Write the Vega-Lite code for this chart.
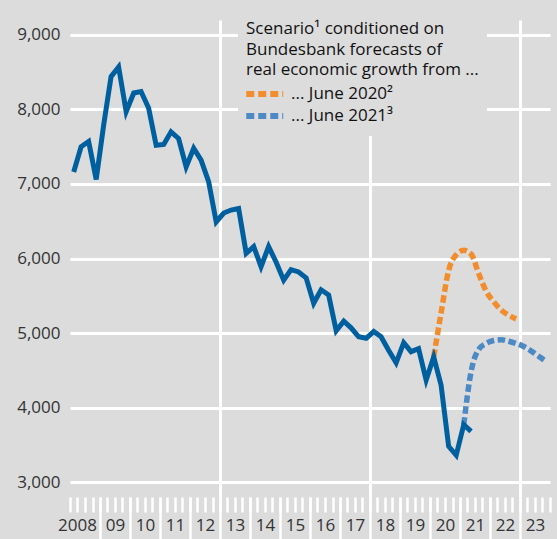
{
  "$schema": "https://vega.github.io/schema/vega-lite/v6.json",
  "width": 480,
  "height": 477,
  "autosize": {"type": "none"},
  "padding": {"left": 70, "top": 20, "right": 7, "bottom": 42},
  "background": "#dcdcdc",
  "config": {
    "view": {"stroke": null},
    "font": "Open Sans",
    "axis": {"labelFont": "Open Sans", "labelFontSize": 17, "labelColor": "#333333", "domain": false, "title": null},
    "legend": {
      "orient": "none",
      "legendX": 168,
      "legendY": -7,
      "fillColor": "#dcdcdc",
      "padding": 8,
      "titleFont": "Open Sans",
      "titleFontSize": 17,
      "titleFontWeight": "normal",
      "titleColor": "#111111",
      "titleLineHeight": 20.7,
      "titleLimit": 400,
      "titlePadding": 5,
      "labelFont": "Open Sans",
      "labelFontSize": 17,
      "labelColor": "#111111",
      "labelLimit": 400,
      "labelOffset": 26,
      "symbolType": "M-1.5,0H4.5",
      "symbolSize": 152,
      "symbolStrokeWidth": 6,
      "symbolDash": [8, 4],
      "symbolFillColor": "transparent",
      "rowPadding": -3
    }
  },
  "datasets": {
    "actual": [
      {"date": "2008-02-15", "value": 7160}, {"date": "2008-05-15", "value": 7500}, {"date": "2008-08-15", "value": 7570}, {"date": "2008-11-15", "value": 7060},
      {"date": "2009-02-15", "value": 7800}, {"date": "2009-05-15", "value": 8440}, {"date": "2009-08-15", "value": 8570}, {"date": "2009-11-15", "value": 7970},
      {"date": "2010-02-15", "value": 8220}, {"date": "2010-05-15", "value": 8240}, {"date": "2010-08-15", "value": 8020}, {"date": "2010-11-15", "value": 7520},
      {"date": "2011-02-15", "value": 7530}, {"date": "2011-05-15", "value": 7700}, {"date": "2011-08-15", "value": 7610}, {"date": "2011-11-15", "value": 7230},
      {"date": "2012-02-15", "value": 7480}, {"date": "2012-05-15", "value": 7320}, {"date": "2012-08-15", "value": 7030}, {"date": "2012-11-15", "value": 6490},
      {"date": "2013-02-15", "value": 6610}, {"date": "2013-05-15", "value": 6650}, {"date": "2013-08-15", "value": 6670}, {"date": "2013-11-15", "value": 6070},
      {"date": "2014-02-15", "value": 6160}, {"date": "2014-05-15", "value": 5890}, {"date": "2014-08-15", "value": 6160}, {"date": "2014-11-15", "value": 5950},
      {"date": "2015-02-15", "value": 5710}, {"date": "2015-05-15", "value": 5850}, {"date": "2015-08-15", "value": 5820}, {"date": "2015-11-15", "value": 5740},
      {"date": "2016-02-15", "value": 5400}, {"date": "2016-05-15", "value": 5580}, {"date": "2016-08-15", "value": 5510}, {"date": "2016-11-15", "value": 5030},
      {"date": "2017-02-15", "value": 5160}, {"date": "2017-05-15", "value": 5070}, {"date": "2017-08-15", "value": 4950}, {"date": "2017-11-15", "value": 4930},
      {"date": "2018-02-15", "value": 5020}, {"date": "2018-05-15", "value": 4950}, {"date": "2018-08-15", "value": 4770}, {"date": "2018-11-15", "value": 4600},
      {"date": "2019-02-15", "value": 4870}, {"date": "2019-05-15", "value": 4750}, {"date": "2019-08-15", "value": 4790}, {"date": "2019-11-15", "value": 4370},
      {"date": "2020-02-15", "value": 4680}, {"date": "2020-05-15", "value": 4300}, {"date": "2020-08-15", "value": 3480}, {"date": "2020-11-15", "value": 3360},
      {"date": "2021-02-15", "value": 3770}, {"date": "2021-05-15", "value": 3680}
    ],
    "scenarios": [
      {"scenario": "... June 2020²", "date": "2020-02-15", "value": 4680},
      {"scenario": "... June 2020²", "date": "2020-05-15", "value": 5270},
      {"scenario": "... June 2020²", "date": "2020-08-15", "value": 5840},
      {"scenario": "... June 2020²", "date": "2020-11-15", "value": 6050},
      {"scenario": "... June 2020²", "date": "2021-02-15", "value": 6110},
      {"scenario": "... June 2020²", "date": "2021-05-15", "value": 6060},
      {"scenario": "... June 2020²", "date": "2021-08-15", "value": 5800},
      {"scenario": "... June 2020²", "date": "2021-11-15", "value": 5560},
      {"scenario": "... June 2020²", "date": "2022-02-15", "value": 5420},
      {"scenario": "... June 2020²", "date": "2022-05-15", "value": 5310},
      {"scenario": "... June 2020²", "date": "2022-08-15", "value": 5240},
      {"scenario": "... June 2020²", "date": "2022-11-15", "value": 5190},
      {"scenario": "... June 2021³", "date": "2021-02-15", "value": 3770},
      {"scenario": "... June 2021³", "date": "2021-05-15", "value": 4480},
      {"scenario": "... June 2021³", "date": "2021-08-15", "value": 4780},
      {"scenario": "... June 2021³", "date": "2021-11-15", "value": 4860},
      {"scenario": "... June 2021³", "date": "2022-02-15", "value": 4900},
      {"scenario": "... June 2021³", "date": "2022-05-15", "value": 4910},
      {"scenario": "... June 2021³", "date": "2022-08-15", "value": 4890},
      {"scenario": "... June 2021³", "date": "2022-11-15", "value": 4860},
      {"scenario": "... June 2021³", "date": "2023-02-15", "value": 4820},
      {"scenario": "... June 2021³", "date": "2023-05-15", "value": 4760},
      {"scenario": "... June 2021³", "date": "2023-08-15", "value": 4690},
      {"scenario": "... June 2021³", "date": "2023-11-15", "value": 4620}
    ]
  },
  "resolve": {"axis": {"x": "independent"}},
  "layer": [
    {
      "data": {"name": "scenarios"},
      "transform": [{"filter": "datum.scenario === '... June 2020²'"}],
      "mark": {"type": "line", "strokeWidth": 5.5, "strokeDash": [7.5, 3.5], "interpolate": "monotone"},
      "encoding": {
        "x": {
          "field": "date", "type": "temporal",
          "scale": {"domain": [{"year": 2008, "month": 1, "date": 1}, {"year": 2024, "month": 1, "date": 1}], "nice": false},
          "axis": {
            "orient": "bottom",
            "values": [{"year": 2009, "month": 1, "date": 1}, {"year": 2010, "month": 1, "date": 1}, {"year": 2011, "month": 1, "date": 1}, {"year": 2012, "month": 1, "date": 1}, {"year": 2013, "month": 1, "date": 1}, {"year": 2014, "month": 1, "date": 1}, {"year": 2015, "month": 1, "date": 1}, {"year": 2016, "month": 1, "date": 1}, {"year": 2017, "month": 1, "date": 1}, {"year": 2018, "month": 1, "date": 1}, {"year": 2019, "month": 1, "date": 1}, {"year": 2020, "month": 1, "date": 1}, {"year": 2021, "month": 1, "date": 1}, {"year": 2022, "month": 1, "date": 1}, {"year": 2023, "month": 1, "date": 1}],
            "labels": false, "grid": false, "domain": false,
            "ticks": true, "tickColor": "white", "tickWidth": 2.5, "tickSize": 42, "title": null
          }
        },
        "y": {"field": "value", "type": "quantitative", "title": null},
        "color": {
          "field": "scenario", "type": "nominal",
          "scale": {"domain": ["... June 2020²", "... June 2021³"], "range": ["#f28d2d", "#4c89c5"]},
          "legend": {"title": ["Scenario¹ conditioned on", "Bundesbank forecasts of", "real economic growth from ..."]}
        }
      }
    },
    {
      "data": {"name": "scenarios"},
      "transform": [{"filter": "datum.scenario === '... June 2021³'"}],
      "mark": {"type": "line", "strokeWidth": 5.5, "strokeDash": [7.5, 3.5], "interpolate": "monotone"},
      "encoding": {
        "x": {
          "field": "date", "type": "temporal",
          "axis": {
            "orient": "bottom",
            "values": [{"year": 2008, "month": 1, "date": 1}, {"year": 2009, "month": 1, "date": 1}, {"year": 2010, "month": 1, "date": 1}, {"year": 2011, "month": 1, "date": 1}, {"year": 2012, "month": 1, "date": 1}, {"year": 2013, "month": 1, "date": 1}, {"year": 2014, "month": 1, "date": 1}, {"year": 2015, "month": 1, "date": 1}, {"year": 2016, "month": 1, "date": 1}, {"year": 2017, "month": 1, "date": 1}, {"year": 2018, "month": 1, "date": 1}, {"year": 2019, "month": 1, "date": 1}, {"year": 2020, "month": 1, "date": 1}, {"year": 2021, "month": 1, "date": 1}, {"year": 2022, "month": 1, "date": 1}, {"year": 2023, "month": 1, "date": 1}],
            "labelExpr": "year(datum.value) == 2008 ? '2008' : timeFormat(datum.value, '%y')",
            "labelAlign": "center",
            "labelBaseline": "top",
            "labelPadding": 20,
            "labelOffset": {"condition": {"test": "year(datum.value) == 2008", "value": 7}, "value": 15},
            "labelOverlap": false,
            "labelFlush": false,
            "ticks": false, "domain": false,
            "grid": true, "gridColor": "white", "gridWidth": 3,
            "gridOpacity": {"condition": {"test": "year(datum.value) == 2013 || year(datum.value) == 2018 || year(datum.value) == 2023", "value": 1}, "value": 0},
            "title": null
          }
        },
        "y": {"field": "value", "type": "quantitative", "title": null},
        "color": {
          "field": "scenario", "type": "nominal",
          "scale": {"domain": ["... June 2020²", "... June 2021³"], "range": ["#f28d2d", "#4c89c5"]},
          "legend": {"title": ["Scenario¹ conditioned on", "Bundesbank forecasts of", "real economic growth from ..."]}
        }
      }
    },
    {
      "data": {"name": "actual"},
      "mark": {"type": "line", "strokeWidth": 5, "color": "#005f9e"},
      "encoding": {
        "x": {
          "field": "date", "type": "temporal",
          "axis": {
            "orient": "bottom",
            "tickCount": {"interval": "month", "step": 3},
            "labels": false, "grid": false, "domain": false,
            "ticks": true, "tickColor": "white", "tickWidth": 2.5, "tickSize": 15, "title": null
          }
        },
        "y": {
          "field": "value", "type": "quantitative", "title": null,
          "scale": {"domain": [2800, 9200], "nice": false, "zero": false},
          "axis": {
            "values": [3000, 4000, 5000, 6000, 7000, 8000, 9000],
            "format": ",d",
            "grid": true, "gridColor": "white", "gridWidth": 3,
            "ticks": false, "domain": false, "labelPadding": 10, "title": null
          }
        }
      }
    }
  ]
}
